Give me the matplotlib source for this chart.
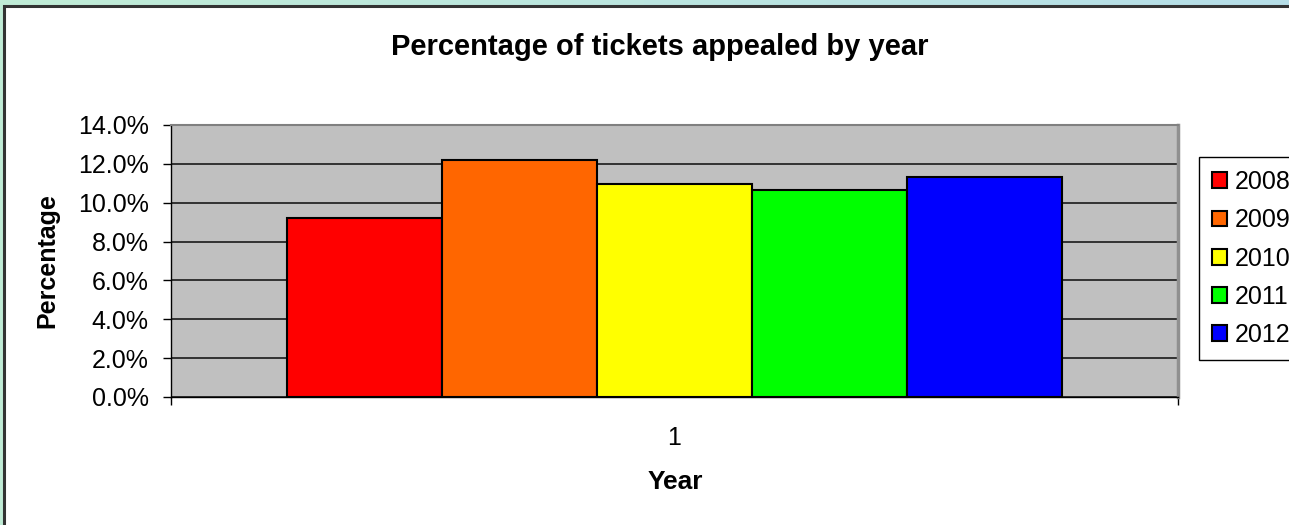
import matplotlib
matplotlib.use("Agg")
import matplotlib.pyplot as plt
import numpy as np
from matplotlib.patches import Rectangle
from matplotlib.ticker import FuncFormatter

years = ["2008", "2009", "2010", "2011", "2012"]
values = [9.2, 12.2, 10.95, 10.65, 11.3]
colors = ["#FF0000", "#FF6600", "#FFFF00", "#00FF00", "#0000FF"]
category = 1
title = "Percentage of tickets appealed by year"
xlabel = "Year"
ylabel = "Percentage"

plt.rcParams['font.family'] = ['Liberation Sans', 'DejaVu Sans']

W, H = 1289, 525
fig = plt.figure(figsize=(W / 100, H / 100), dpi=100)

# gradient background
bg = fig.add_axes([0, 0, 1, 1], zorder=-10)
c0 = np.array([192, 236, 214]) / 255
c1 = np.array([182, 222, 232]) / 255
t = np.linspace(0, 1, 256)
grad = (c0[None, :] * (1 - t[:, None]) + c1[None, :] * t[:, None])[None, :, :]
bg.imshow(grad, aspect='auto', extent=[0, 1, 0, 1])
bg.set_axis_off()

# chart area
fig.patches.append(Rectangle((4 / W, -0.1), 1.2, 1 - 6 / H + 0.1, transform=fig.transFigure,
                             facecolor='white', edgecolor='#333333', linewidth=2.2, zorder=-5))

ax = fig.add_axes([171 / W, 1 - 397 / H, (1178 - 171) / W, (397 - 125) / H])
ax.set_facecolor('#C0C0C0')

bw = 155 / 1007
offsets = (np.arange(len(years)) - (len(years) - 1) / 2) * bw
for off, v, c, yr in zip(offsets, values, colors, years):
    ax.bar(category + off, v, width=bw, color=c, edgecolor='black', linewidth=1.5, label=yr, zorder=3)

ax.set_xlim(category - 0.5, category + 0.5)
ax.set_ylim(0, 14)
ax.set_yticks(np.arange(0, 14.1, 2))
ax.yaxis.set_major_formatter(FuncFormatter(lambda v, p: f"{v:.1f}%"))
ax.grid(axis='y', color='#1a1a1a', linewidth=1.2, zorder=1)
ax.set_axisbelow(True)

ax.set_xticks([category - 0.5, category + 0.5])
ax.set_xticklabels(["", ""])
ax.set_xticks([category], minor=True)
ax.set_xticklabels([str(category)], minor=True)
ax.tick_params(axis='x', which='major', direction='out', length=6, width=1)
ax.tick_params(axis='x', which='minor', length=0, pad=21, labelsize=18)
ax.tick_params(axis='y', direction='out', length=6, width=1, pad=10, labelsize=18)

for s in ['left', 'bottom']:
    ax.spines[s].set_color('black')
    ax.spines[s].set_linewidth(1)
ax.spines['top'].set_color('#808080')
ax.spines['top'].set_linewidth(1.5)
ax.spines['right'].set_color('#909090')
ax.spines['right'].set_linewidth(2.5)

fig.text(660 / W, 1 - 47 / H, title, ha='center', va='center', fontsize=21, fontweight='bold')
fig.text(675 / W, 1 - 482 / H, xlabel, ha='center', va='center', fontsize=19, fontweight='bold')
fig.text(47 / W, 1 - 261 / H, ylabel, ha='center', va='center', rotation=90, fontsize=18, fontweight='bold')

leg = fig.legend(loc='upper left', bbox_to_anchor=(1199 / W, 1 - 157 / H), fontsize=18,
                 frameon=True, fancybox=False, edgecolor='black', framealpha=1,
                 handlelength=0.6, handleheight=0.6, handletextpad=0.3, labelspacing=0.57,
                 borderpad=0.52, borderaxespad=0)
leg.get_frame().set_linewidth(1)

fig.savefig('out.png', dpi=100)
